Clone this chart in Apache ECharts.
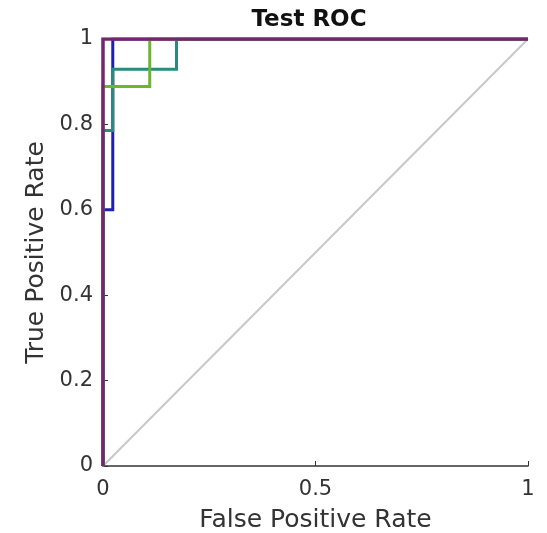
<!DOCTYPE html>
<html>
<head>
<meta charset="utf-8">
<script src="https://cdn.jsdelivr.net/npm/echarts@6/dist/echarts.min.js"></script>
<style>html,body{margin:0;padding:0;background:#fff;}#chart{width:547px;height:533px;}</style>
</head>
<body>
<div id="chart"></div>
<script>
// ROC curves (False Positive Rate, True Positive Rate)
const chanceFPR = [0, 1];
const chanceTPR = [0, 1];
const blueFPR = [0, 0, 0.023, 0.023, 1];
const blueTPR = [0, 0.6, 0.6, 1, 1];
const tealFPR = [0, 0, 0.023, 0.023, 0.173, 0.173, 1];
const tealTPR = [0, 0.786, 0.786, 0.929, 0.929, 1, 1];
const greenFPR = [0, 0, 0.11, 0.11, 1];
const greenTPR = [0, 0.889, 0.889, 1, 1];
const purpleFPR = [0, 0, 1];
const purpleTPR = [0, 1, 1];
const xTicks = [0, 0.5, 1];
const yTicks = [0, 0.2, 0.4, 0.6, 0.8, 1];

function pts(xs, ys) { return xs.map((x, i) => [x, ys[i]]); }

const font = 'DejaVu Sans';
const chart = echarts.init(document.getElementById('chart'));
function line(name, xs, ys, color, width) {
  return { name, type: 'line', data: pts(xs, ys), showSymbol: false, symbol: 'none',
    lineStyle: { color, width, join: 'miter' }, animation: false, silent: true };
}
chart.setOption({
  backgroundColor: '#fff',
  animation: false,
  title: { text: 'Test ROC', left: 304, top: 4, textAlign: 'center',
    textStyle: { fontFamily: font, fontSize: 23, fontWeight: 'bold', color: '#111' } },
  grid: { left: 103, right: 19, top: 39, bottom: 67, containLabel: false, outerBoundsMode: 'none' },
  xAxis: { type: 'value', min: 0, max: 1, interval: 0.5,
    name: 'False Positive Rate', nameLocation: 'middle', nameGap: 42,
    nameTextStyle: { fontFamily: font, fontSize: 25, color: '#333' },
    axisLine: { lineStyle: { color: '#333', width: 1.5 } },
    axisTick: { inside: true, length: 5, lineStyle: { color: '#333' } },
    splitLine: { show: false },
    axisLabel: { fontFamily: font, fontSize: 21, color: '#333', margin: 13,
      formatter: v => xTicks.includes(v) ? String(v) : '' } },
  yAxis: { type: 'value', min: 0, max: 1, interval: 0.2,
    name: 'True Positive Rate', nameLocation: 'middle', nameGap: 54, nameRotate: 90,
    nameTextStyle: { fontFamily: font, fontSize: 25, color: '#333' },
    axisLine: { show: true, lineStyle: { color: '#333', width: 1.5 } },
    axisTick: { show: true, inside: true, length: 5, lineStyle: { color: '#333' } },
    splitLine: { show: false },
    axisLabel: { fontFamily: font, fontSize: 21, color: '#333', margin: 10,
      formatter: v => { const t = yTicks.find(y => Math.abs(y - v) < 1e-9); return t === undefined ? '' : String(t); } } },
  series: [
    line('chance', chanceFPR, chanceTPR, '#c8c8c8', 2),
    line('blue', blueFPR, blueTPR, '#1f1fb4', 3),
    line('teal', tealFPR, tealTPR, '#2b8a7e', 3),
    line('green', greenFPR, greenTPR, '#6db52e', 3),
    line('purple', purpleFPR, purpleTPR, '#75266f', 3.5)
  ]
});
</script>
</body>
</html>
